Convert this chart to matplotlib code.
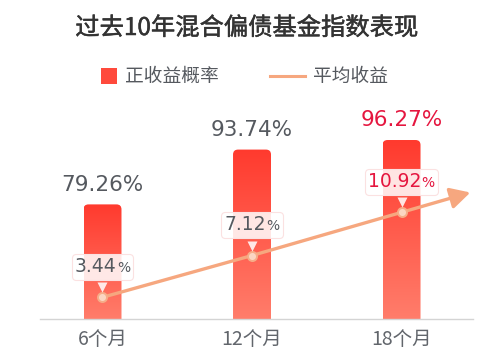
import matplotlib
matplotlib.use('Agg')
import matplotlib.pyplot as plt
import numpy as np
from matplotlib.patches import FancyBboxPatch, Rectangle
from matplotlib.offsetbox import TextArea, HPacker, AnnotationBbox
from matplotlib.lines import Line2D
import matplotlib.transforms as mtransforms
import matplotlib.patheffects as pe
from matplotlib.colors import LinearSegmentedColormap

plt.rcParams['font.family'] = ['Noto Sans CJK SC', 'DejaVu Sans']
NUM_FONT = ['DejaVu Sans']

# ---- data ----
categories = ['6个月', '12个月', '18个月']
positive_rate = [79.26, 93.74, 96.27]
avg_return = [3.44, 7.12, 10.92]
title = '过去10年混合偏债基金指数表现'
legend_labels = ['正收益概率', '平均收益']

# ---- styling ----
GRAY = '#55595f'
HIGHLIGHT = '#e5163f'
LINE_C = '#f6a77f'
BAR_TOP = '#ff3a2e'
BAR_BOTTOM = '#ff7d6b'

W, H = 499, 355
fig = plt.figure(figsize=(W / 100, H / 100), dpi=100)
ax_l, ax_b, ax_w, ax_h = 40, 36, 433, 219
ax = fig.add_axes([ax_l / W, ax_b / H, ax_w / W, ax_h / H])
ax2 = ax.twinx()

x = np.arange(len(categories))
XLIM = (-0.418, 2.478)
YLIM = (48.98, 106.84)
Y2LIM = (1.53, 20.81)
ax.set_xlim(*XLIM)
ax.set_ylim(*YLIM)
ax2.set_ylim(*Y2LIM)

# bars (invisible base + gradient fill with rounded top)
bar_w = 0.254
bars = ax.bar(x, positive_rate, width=bar_w, color='none', edgecolor='none')
cmap = LinearSegmentedColormap.from_list('g', [BAR_BOTTOM, BAR_TOP])
grad = np.linspace(0, 1, 256).reshape(-1, 1)
xpp = (XLIM[1] - XLIM[0]) / ax_w
ypp = (YLIM[1] - YLIM[0]) / ax_h
r_px = 5
for b in bars:
    x0 = b.get_x()
    w = b.get_width()
    top = b.get_height()
    low = YLIM[0] - 20
    clip = FancyBboxPatch((x0, low), w, top - low,
                          boxstyle=f'round,pad=0,rounding_size={r_px * xpp}',
                          mutation_aspect=ypp / xpp,
                          transform=ax.transData, facecolor='none', edgecolor='none')
    im = ax.imshow(grad, extent=[x0, x0 + w, YLIM[0], top], origin='lower',
                   aspect='auto', cmap=cmap, zorder=2, interpolation='bilinear')
    im.set_clip_path(clip)
ax.set_xlim(*XLIM)
ax.set_ylim(*YLIM)

# bar value labels
for i, v in enumerate(positive_rate):
    c = HIGHLIGHT if i == len(positive_rate) - 1 else GRAY
    ax.annotate(f'{v:.2f}%', xy=(x[i], v), xytext=(0, 7), textcoords='offset points',
                ha='center', va='bottom', fontsize=15.5, color=c, zorder=5,
                family=NUM_FONT)

# line + arrow
ax2.plot(x, avg_return, color=LINE_C, lw=2.4, zorder=3, solid_capstyle='round')
ax2.plot(x, avg_return, 'o', ms=6.5, mfc='#fbd6c2', mec='#f6ad88', mew=1.4, zorder=4)
ext = 0.46
slope = avg_return[-1] - avg_return[-2]
ax2.annotate('', xy=(x[-1] + ext, avg_return[-1] + slope * ext),
             xytext=(x[-1], avg_return[-1]),
             arrowprops=dict(arrowstyle='-|>,head_length=0.6,head_width=0.32',
                             color=LINE_C, lw=2.4, shrinkA=0, shrinkB=0,
                             mutation_scale=20), zorder=3)

# line value labels (boxes with pointer)
for i, v in enumerate(avg_return):
    c = HIGHLIGHT if i == len(avg_return) - 1 else GRAY
    t1 = TextArea(f'{v:.2f}', textprops=dict(size=13.5, color=c, family=NUM_FONT))
    t2 = TextArea('%', textprops=dict(size=10, color=c, family=NUM_FONT))
    pack = HPacker(children=[t1, t2], align='baseline', pad=0, sep=0)
    ab = AnnotationBbox(pack, (x[i], v), xycoords=ax2.transData,
                        xybox=(0, 22), boxcoords='offset points',
                        frameon=True, pad=0.25, box_alignment=(0.5, 0.5),
                        bboxprops=dict(boxstyle='round,pad=0.25,rounding_size=0.3',
                                       fc=(1, 1, 1, 0.86), ec='#fbe1e1', lw=0.8),
                        zorder=6)
    ax2.add_artist(ab)
    off = mtransforms.ScaledTranslation(0, 10 / 100, fig.dpi_scale_trans)
    ax2.plot([x[i]], [v], marker='v', ms=7, mfc=(1, 1, 1, 0.86), mec='none',
             transform=ax2.transData + off, zorder=6)

# axes styling
for a in (ax, ax2):
    for s in ('top', 'left', 'right'):
        a.spines[s].set_visible(False)
    a.set_yticks([])
ax2.spines['bottom'].set_visible(False)
ax.spines['bottom'].set_color('#d4d4d4')
ax.spines['bottom'].set_linewidth(1)
ax.set_xticks(x)
ax.set_xticklabels(categories, fontsize=14, color='#62666c')
ax.tick_params(axis='x', length=0, pad=7)

# title (medium weight simulated with a thin stroke)
fig.text(246.5 / W, 1 - 28 / H, title, ha='center', va='center',
         fontsize=17.5, color='#333333',
         path_effects=[pe.withStroke(linewidth=0.35, foreground='#333333')])

# legend (manual)
ly = 1 - 76 / H
fig.patches.append(Rectangle((101 / W, 1 - 84 / H), 16 / W, 16 / H,
                             transform=fig.transFigure, facecolor='#ff4a3c',
                             edgecolor='none'))
fig.text(125 / W, ly, legend_labels[0], ha='left', va='center', fontsize=13.5, color=GRAY)
fig.lines.append(Line2D([270 / W, 305 / W], [ly, ly], transform=fig.transFigure,
                        color=LINE_C, lw=2.2))
fig.text(313 / W, ly, legend_labels[1], ha='left', va='center', fontsize=13.5, color=GRAY)

fig.savefig('out.png', dpi=100)
